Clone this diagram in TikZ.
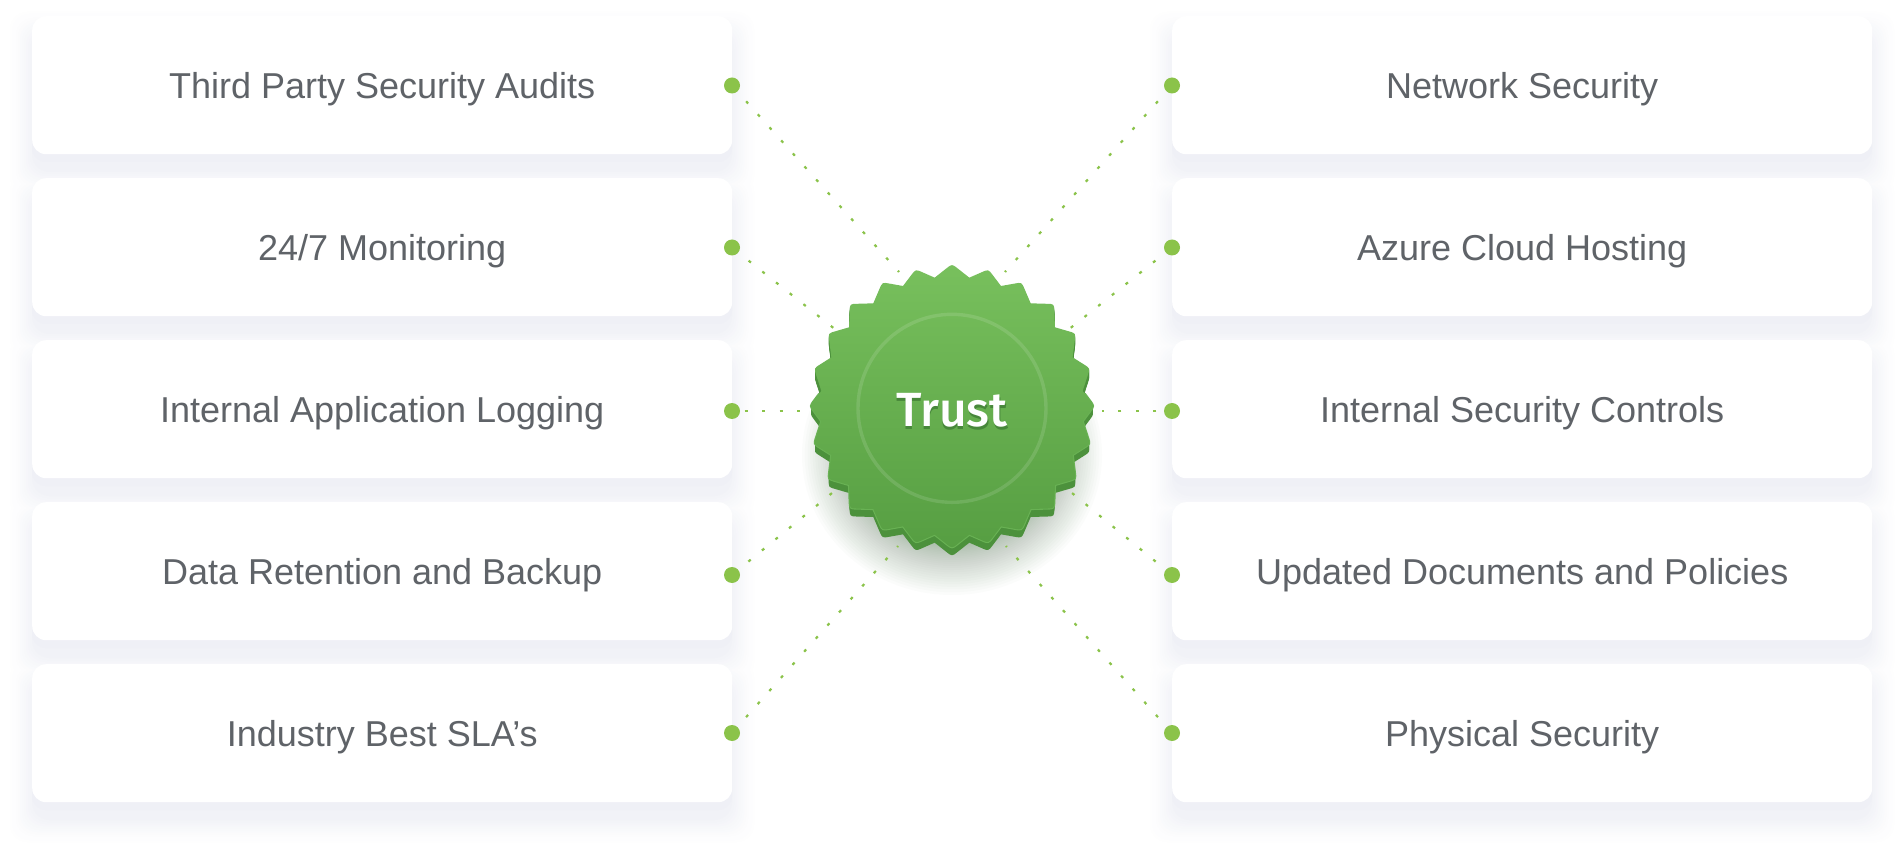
\documentclass[tikz,border=0pt]{standalone}
\usetikzlibrary{calc}
\usepackage{fontspec}
\setmainfont{Liberation Sans}
\newfontfamily\trustfont[UprightFont=* Medium]{Fira Sans}
\definecolor{txt}{HTML}{5F6368}
\definecolor{dotg}{HTML}{8BC34A}
\definecolor{band}{HTML}{EFF0F6}
\definecolor{shad}{HTML}{F1F2F7}
\definecolor{bshad}{HTML}{285A28}
\definecolor{gtop}{HTML}{78C05D}
\definecolor{gmid}{HTML}{5FA74A}
\definecolor{gbot}{HTML}{569E42}
\definecolor{gside}{HTML}{4C913C}
\definecolor{grim}{HTML}{69B254}
\definecolor{tshad}{HTML}{47873A}
\tikzset{
  card/.style={fill=white,rounded corners=14pt,minimum width=700pt,minimum height=138pt,inner sep=0pt,
    text=txt,font=\fontsize{36}{36}\selectfont,text height=36pt,text depth=9.4pt,anchor=north west},
  dotnode/.style={circle,fill=dotg,minimum size=16pt,inner sep=0pt},
  dotline/.style={draw=dotg,line width=2.2pt,dash pattern=on 3pt off 14.5pt,dash phase=4.5pt},
  endpt/.style={coordinate},
}
% one rounded tip: previous valley, tip, next valley
\def\R#1#2#3{-- ($(#2)!7pt!(#1)$) .. controls (#2) .. ($(#2)!7pt!(#3)$) -- (#3)}
\def\badgepath{(464,113) \R{464,113}{516,72}{568,113} \R{568,113}{625,88}{663,138} \R{663,138}{725,127}{752,190} \R{752,190}{822,192}{825,262} \R{825,262}{887,280}{878,352} \R{878,352}{930,385}{908,453} \R{908,453}{942,498}{908,544} \R{908,544}{930,612}{878,645} \R{878,645}{887,717}{825,735} \R{825,735}{822,805}{752,807} \R{752,807}{725,870}{663,859} \R{663,859}{625,909}{568,884} \R{568,884}{516,925}{464,884} \R{464,884}{407,909}{369,859} \R{369,859}{307,870}{280,807} \R{280,807}{210,805}{207,735} \R{207,735}{145,717}{154,645} \R{154,645}{102,612}{124,544} \R{124,544}{90,498}{124,453} \R{124,453}{102,385}{154,352} \R{154,352}{145,280}{207,262} \R{207,262}{210,192}{280,190} \R{280,190}{307,127}{369,138} \R{369,138}{407,88}{464,113} -- cycle}
\begin{document}
\begin{tikzpicture}[x=1pt,y=-1pt]
\useasboundingbox (0,0) rectangle (1904,858);
\fill[white] (0,0) rectangle (1904,858);
% soft card shadows: every layer across all cards, outermost first
\foreach \e in {26,24,...,0}{
  \pgfmathsetmacro{\p}{100*(1-\e/26)^1.5}
  \foreach \cx in {32,1172}{
    \foreach \cy in {664,502,340,178,16}{
      \fill[shad!\p!white,rounded corners=18pt] (\cx-\e,\cy+18-\e) rectangle (\cx+700+\e,\cy+138+18+\e);
    }
  }
}
\foreach \cx in {32,1172}{
  \foreach \cy in {664,502,340,178,16}{
    \fill[band,rounded corners=14pt] (\cx,\cy+8) rectangle (\cx+700,\cy+146);
  }
}
% badge soft shadow
\foreach \i in {0,...,44}{
  \pgfmathsetmacro{\o}{62*(1-(1-\i/44)^2)}
  \fill[bshad,opacity=0.0155] (952,455) ellipse ({150-\o} and {140-\o});
}
% cards
\node[card] (c1) at (32,16) {Third Party Security Audits};
\node[card] (c2) at (32,178) {24/7 Monitoring};
\node[card] (c3) at (32,340) {Internal Application Logging};
\node[card] (c4) at (32,502) {Data Retention and Backup};
\node[card] (c5) at (32,664) {Industry Best SLA’s};
\node[card] (c6) at (1172,16) {Network Security};
\node[card] (c7) at (1172,178) {Azure Cloud Hosting};
\node[card] (c8) at (1172,340) {Internal Security Controls};
\node[card] (c9) at (1172,502) {Updated Documents and Policies};
\node[card] (c10) at (1172,664) {Physical Security};
% dots
\node[dotnode] (d1) at (732,85.5) {};
\node[dotnode] (d2) at (732,247.5) {};
\node[dotnode] (d3) at (732,411) {};
\node[dotnode] (d4) at (732,575) {};
\node[dotnode] (d5) at (732,733) {};
\node[dotnode] (d6) at (1172,85.5) {};
\node[dotnode] (d7) at (1172,247.5) {};
\node[dotnode] (d8) at (1172,411) {};
\node[dotnode] (d9) at (1172,575) {};
\node[dotnode] (d10) at (1172,733) {};
% connector ends at badge rim
\node[endpt] (e1) at (899,272) {};
\node[endpt] (e2) at (836,330) {};
\node[endpt] (e3) at (802,411) {};
\node[endpt] (e4) at (832,493) {};
\node[endpt] (e5) at (898,546) {};
\node[endpt] (e6) at (1005,272) {};
\node[endpt] (e7) at (1068,330) {};
\node[endpt] (e8) at (1102,411) {};
\node[endpt] (e9) at (1072,493) {};
\node[endpt] (e10) at (1006,546) {};
\foreach \i in {1,2,4,5,6,7,9,10}{ \draw[dotline] (d\i) -- (e\i); }
\draw[dotline,dash phase=13pt] (d3) -- (e3);
\draw[dotline,dash phase=10pt] (d8) -- (e8);
% badge
\begin{scope}[shift={(780,240)},x=0.33333pt,y=-0.33333pt]
  \foreach \d in {24,21,...,3}{
    \begin{scope}[yshift=-\d*0.33333pt]
      \fill[gside] \badgepath;
    \end{scope}
  }
  \begin{scope}
    \clip (0,460) rectangle (1032,1000);
    \draw[grim,line width=2.2pt] \badgepath;
  \end{scope}
  \shade[top color=gtop,middle color=gmid,bottom color=gbot] \badgepath;
  \coordinate (bc) at (516,505);
\end{scope}
\node[circle,draw=white,draw opacity=0.12,line width=3.4pt,minimum size=188pt,inner sep=0pt] (ring) at (bc) {};
\node[font=\trustfont\fontsize{48}{48}\selectfont,text=tshad] at (952.5,413.5) {Trust};
\node[font=\trustfont\fontsize{48}{48}\selectfont,text=white] (trust) at (952,410) {Trust};
\end{tikzpicture}
\end{document}
